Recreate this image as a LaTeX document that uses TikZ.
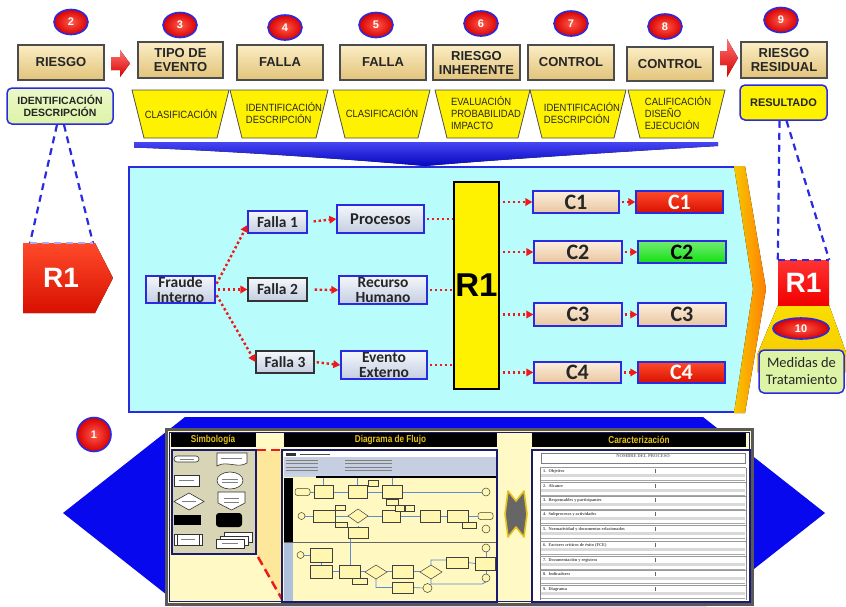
\documentclass[tikz,border=0pt]{standalone}
\usepackage{fontspec}
\setmainfont{Liberation Sans}
\newfontfamily\carl{Carlito}
\newfontfamily\narrowf[FakeStretch=0.9]{Liberation Sans}
\newfontfamily\narrowb[FakeStretch=0.82]{Liberation Sans}
\newfontfamily\serifl{Liberation Serif}
\usetikzlibrary{arrows.meta,shapes.geometric}
\definecolor{tanA}{HTML}{FBEDC4}
\definecolor{tanB}{HTML}{E2C37A}
\definecolor{bord}{HTML}{2A2AE0}
\definecolor{cyanbg}{HTML}{B9FCFC}
\definecolor{ctanA}{HTML}{FDEEDD}
\definecolor{ctanB}{HTML}{E8C59E}
\definecolor{gblA}{HTML}{F4F7FB}
\definecolor{gblB}{HTML}{C4CEE2}
\definecolor{redA}{HTML}{FF4A2A}
\definecolor{redB}{HTML}{D81000}
\definecolor{grn}{HTML}{14E014}
\definecolor{dred}{HTML}{F01818}
\definecolor{bbig}{HTML}{0808EE}
\definecolor{navy}{HTML}{1A1A70}
\definecolor{paleY}{HTML}{FFF9C6}
\definecolor{bandY}{HTML}{FCE79A}
\definecolor{khaki}{HTML}{D8D4B6}
\definecolor{gtext}{HTML}{E6C21C}
\definecolor{fy}{HTML}{FFF6B0}
\definecolor{fy2}{HTML}{FFF8C0}
\definecolor{fblue}{HTML}{5A8ED0}
\definecolor{slateA}{HTML}{C6CFE2}
\definecolor{laneblue}{HTML}{AFC0DC}
\definecolor{medg}{HTML}{DDF3A6}
\definecolor{goldt}{HTML}{F7C800}
\definecolor{ballin}{HTML}{FF5A4A}
\definecolor{ballout}{HTML}{D80000}
\newcommand\flowrect[4]{\filldraw[fbx] ({#1-#3/2},{#2-#4/2}) rectangle ({#1+#3/2},{#2+#4/2});}
\newcommand\flowdia[4]{\filldraw[fbx] ({#1-#3/2},#2) -- (#1,{#2-#4/2}) -- ({#1+#3/2},#2) -- (#1,{#2+#4/2}) -- cycle;}
\newcommand\flowcirc[3]{\filldraw[fbx] (#1,#2) circle (#3pt);}
\newcommand\flowpill[4]{\filldraw[fbx,rounded corners=2.5pt] ({#1-#3/2},{#2-#4/2}) rectangle ({#1+#3/2},{#2+#4/2});}
\tikzset{
 hdr/.style={draw=black!70,line width=1.1pt,top color=tanA,bottom color=tanB,inner sep=0pt,align=center,font=\bfseries\fontsize{13}{14}\selectfont,text=black!85},
 num/.style={ellipse,draw=bord,line width=1.6pt,inner color=ballin,outer color=ballout,text=white,inner sep=0pt,minimum width=34pt,minimum height=25pt,font=\bfseries\fontsize{11}{11}\selectfont},
 trap/.style={fill=yellow,draw=black!70,line width=0.8pt},
 ttxt/.style={font=\narrowf\fontsize{10.5}{12}\selectfont,align=left,text=black!85,inner sep=0pt},
 mbox/.style={draw=bord,line width=1.3pt,top color=gblA,bottom color=gblB,inner sep=0pt,align=center,font=\carl\bfseries\fontsize{15.5}{15.5}\selectfont,text=black!85},
 cbox/.style={draw=bord,line width=1.3pt,top color=ctanA,bottom color=ctanB,inner sep=0pt,font=\carl\bfseries\fontsize{22}{22}\selectfont,text=black!85},
 dotln/.style={draw=dred,line width=2.4pt,dash pattern=on 2.4pt off 2.6pt},
 dotarr/.style={dotln,-{Triangle[length=7pt,width=7.5pt]}},
 bluedash/.style={draw=bord,line width=2.2pt,dash pattern=on 7pt off 5pt},
 bhdr/.style={fill=black,text=gtext,minimum height=14pt,inner sep=0pt,font=\narrowb\bfseries\fontsize{10}{10}\selectfont},
 fbx/.style={draw=black!75,fill=fy,line width=0.5pt},
 fln/.style={draw=fblue,line width=0.7pt},
 sym/.style={draw=black!80,fill=white,line width=0.6pt},
}
\begin{document}
\begin{tikzpicture}[x=1pt,y=-1pt]
\useasboundingbox (0,0) rectangle (846,606);
% ---------------- bottom section ----------------
\fill[bbig] (63,513) -- (185,417) -- (703,417) -- (825,513) -- (707,606) -- (181,606) -- cycle;
\filldraw[fill=paleY,draw=black!65,line width=3pt] (166,429) rectangle (752,604);
\draw[navy,line width=1pt] (169.5,432) rectangle (749.5,601);
\node[bhdr,minimum width=85pt] (hS) at (213,439.5) {Simbología};
\node[bhdr,minimum width=213pt] (hD) at (390.5,439.5) {Diagrama de Flujo};
\node[bhdr,minimum width=214pt] (hC) at (639,439.5) {Caracterización};
% simbologia panel
\filldraw[fill=khaki,draw=navy,line width=2pt] (172,450) rectangle (256,554);
\filldraw[sym,rounded corners=3pt] (174,456) rectangle (199,462);
\filldraw[sym] (217,453) -- (247,453) -- (247,463) .. controls (238,469) and (226,460) .. (217,466) -- cycle;
\filldraw[sym] (174,475) rectangle (199,486);
\filldraw[sym] (230,480.5) ellipse (13pt and 8.5pt);
\filldraw[sym] (174,501.5) -- (189,493) -- (204,501.5) -- (189,510) -- cycle;
\filldraw[sym] (218,492) -- (245,492) -- (245,503) -- (231.5,510) -- (218,503) -- cycle;
\fill[black] (174,515) rectangle (201,525);
\fill[black,rounded corners=3pt] (216,513) rectangle (242,527);
\filldraw[sym] (174,534) rectangle (202,545);
\draw[black!80,line width=0.6pt] (177,534) -- (177,545) (199,534) -- (199,545);
\filldraw[sym] (224,532) rectangle (252,542);
\filldraw[sym] (220,536) rectangle (248,545);
\filldraw[sym] (216,539) rectangle (244,548);
\foreach \a/\b/\c in {180/194/459,221/242/458,179/194/480.5,222/238/479,222/238/482,182/196/501.5,224/239/498,224/239/502,181/195/539.5,222/238/543.5}
  \draw[gray,line width=0.5pt] (\a,\c) -- (\b,\c);
% zoom band
\fill[bandY] (257,451) -- (281,451) -- (282,601) -- (257,556) -- cycle;
\draw[dred,line width=2.5pt,dash pattern=on 9pt off 5pt] (257,450) -- (280,450);
\draw[dred,line width=2.5pt,dash pattern=on 9pt off 5pt] (258,557) -- (283,601);
% flow diagram panel
\filldraw[fill=fy2,draw=navy,line width=2pt] (282,450) rectangle (497,602);
\fill[white] (283.5,451) rectangle (496,457);
\fill[black!80] (286,452.5) rectangle (296,455.5);
\draw[black!70,line width=0.8pt] (300,454) -- (330,454);
\fill[slateA] (283.5,457) rectangle (496,474);
\foreach \yy in {460,463.5,467,470.5}{
  \draw[black!50,line width=0.6pt] (286,\yy) -- (318,\yy);
  \draw[black!50,line width=0.6pt] (345,\yy) -- (392,\yy);}
\fill[laneblue!70] (283.5,474) rectangle (496,477);
\fill[black] (316,476) rectangle (496,478);
\fill[black] (283.5,478) rectangle (293,542);
\fill[laneblue] (283.5,542) rectangle (293,601);
\draw[black!60,line width=1pt] (283.5,542) -- (496,542);
% lane 1 connectors
\draw[fln] (310,492) -- (482,492);
\draw[fln] (305,516) -- (478,516);
\draw[fln] (323.5,478) -- (323.5,485) (357.5,478) -- (357.5,485) (392,478) -- (392,485);
\draw[fln] (358,526) -- (358,527);
\draw[fln] (350,538) -- (350,565);
% lane 1 shapes
\flowpill{302.5}{492}{15}{7}
\flowrect{323.5}{491.5}{19}{13}
\flowrect{357.5}{491.5}{19}{13}
\flowrect{373}{483}{10}{6}
\flowrect{392}{491.5}{20}{13}
\flowrect{392}{502}{12}{6}
\flowcirc{486}{492}{4}
\flowcirc{301.5}{516}{3.5}
\flowrect{324}{516}{22}{12}
\flowrect{340}{507.5}{10}{5}
\flowrect{341}{524.5}{12}{5}
\flowdia{358}{516}{20}{14}
\flowrect{358}{532.5}{20}{11}
\flowrect{391}{516}{18}{12}
\flowrect{400}{508.5}{9}{6}
\flowrect{410}{508.5}{9}{6}
\flowrect{430}{516}{20}{12}
\flowrect{457.5}{516}{21}{12}
\flowrect{469}{525}{14}{6}
\flowpill{485.5}{516}{15}{7}
\flowcirc{486}{529}{4}
% lane 2 connectors
\draw[fln] (304,555) -- (310,555);
\draw[fln] (321,562) -- (321,565);
\draw[fln] (332,571.5) -- (365,571.5) (387,571.5) -- (420,571.5);
\draw[fln] (376,579) -- (376,587.5) -- (392,587.5) (413,587.5) -- (423,588);
\draw[fln] (431,565) -- (431,560) -- (446,560) (468,562.5) -- (475,563.5);
\draw[fln] (431,579) -- (431,584) -- (482,584) -- (486,582);
\draw[fln] (486,552) -- (486,557) (486,570) -- (486,574);
% lane 2 shapes
\flowcirc{300.5}{555}{3.5}
\flowrect{321}{555}{22}{14}
\flowrect{321}{571.5}{22}{13}
\flowrect{349.5}{571.5}{21}{13}
\flowrect{359.5}{581}{15}{6}
\flowdia{376}{572}{22}{14}
\flowrect{402.5}{571.5}{21}{13}
\flowrect{402.5}{587.5}{21}{11}
\flowcirc{427.5}{588}{4.5}
\flowdia{431}{572}{22}{14}
\flowrect{457}{562.5}{22}{11}
\flowrect{485}{563.5}{20}{13}
\flowcirc{486}{548}{4}
\flowcirc{486}{578}{4}
% double-headed connector
\filldraw[fill=black!60,draw=gtext,line width=1.6pt,line join=round] (508,491) -- (516,501) -- (524,491) -- (527,514) -- (524,537) -- (516,527) -- (508,537) -- (505,514) -- cycle;
% caracterizacion panel
\filldraw[fill=white,draw=navy,line width=2pt] (532,450) rectangle (750,602);
\draw[gray,line width=0.8pt] (541,453) rectangle (745,463);
\node[font=\serifl\bfseries\fontsize{4.5}{4.5}\selectfont,text=black!55,inner sep=0pt] (ctit) at (643,456.5) {NOMBRE DEL PROCESO};
\draw[gray,line width=0.8pt] (540,468) -- (540,600) (746,468) -- (746,600);
\foreach \yy/\lab in {471/{1.\ \ Objetivo},486/{2.\ \ Alcance},500/{3.\ \ Responsables y participantes},514/{4.\ \ Subprocesos y actividades},529/{5.\ \ Normatividad y documentos relacionados},545/{6.\ \ Factores críticos de éxito (FCE)},560/{7.\ \ Documentación y registros},574/{8.\ \ Indicadores},589/{9.\ \ Diagrama}}{
  \draw[gray!80,line width=0.8pt] (540,\yy-3.5) -- (746,\yy-3.5);
  \fill[gray!30] (541,\yy+3) rectangle (745,\yy+6);
  \draw[gray!70,line width=0.5pt] (541,\yy+9) -- (745,\yy+9);
  \draw[black!60,line width=0.8pt] (655,\yy-2) -- (655,\yy+1.5);
  \node[anchor=west,font=\serifl\bfseries\fontsize{4.3}{4.3}\selectfont,text=black!70,inner sep=0pt] at (543,\yy) {\lab};
}
\node[num,minimum width=34pt,minimum height=34pt] (n1) at (94,434.5) {1};
% ---------------- middle section ----------------
\fill[cyanbg] (129,167) -- (735,167) -- (754,289) -- (735,412) -- (129,412) -- cycle;
\draw[bord,line width=1.2pt] (737,167) -- (129,167) -- (129,412) -- (737,412);
\fill[left color=goldt,right color=orange] (734,166) -- (745,166) -- (766,289) -- (745,413) -- (734,413) -- (753,289) -- cycle;
\node[mbox,minimum width=69pt,minimum height=27pt] (fr) at (180.5,289.5) {Fraude\\Interno};
\node[mbox,minimum width=59pt,minimum height=22pt] (f1) at (277.5,222) {Falla 1};
\node[mbox,draw=black!80,minimum width=59pt,minimum height=23pt] (f2) at (277.5,289.5) {Falla 2};
\node[mbox,draw=black!80,minimum width=58pt,minimum height=22pt] (f3) at (285,362) {Falla 3};
\node[mbox,font=\carl\bfseries\fontsize{16.5}{16.5}\selectfont,minimum width=87pt,minimum height=28pt] (pro) at (380.5,219) {Procesos};
\node[mbox,minimum width=88pt,minimum height=28pt] (rec) at (383,290) {Recurso\\Humano};
\node[mbox,minimum width=86pt,minimum height=28pt] (ev) at (384,365) {Evento\\Externo};
\node[fill=yellow,draw=black,line width=1.6pt,minimum width=45pt,minimum height=207pt,inner sep=0pt,font=\bfseries\fontsize{33}{33}\selectfont] (R1y) at (476.5,285.5) {R1};
\node[cbox,minimum width=86pt,minimum height=22pt] (c1a) at (576,202) {C1};
\node[cbox,top color=redA,bottom color=redB,text=white,minimum width=87pt,minimum height=22pt] (c1b) at (679.5,202) {C1};
\node[cbox,minimum width=88pt,minimum height=22pt] (c2a) at (578,252) {C2};
\node[cbox,top color=grn!60!white,bottom color=grn,text=black,minimum width=88pt,minimum height=22pt] (c2b) at (682,252) {C2};
\node[cbox,minimum width=88pt,minimum height=23pt] (c3a) at (578,314.5) {C3};
\node[cbox,minimum width=88pt,minimum height=23pt] (c3b) at (682,314.5) {C3};
\node[cbox,minimum width=87pt,minimum height=21pt] (c4a) at (577.5,372.5) {C4};
\node[cbox,top color=redA,bottom color=redB,text=white,minimum width=87pt,minimum height=21pt] (c4b) at (681.5,372.5) {C4};
\draw[dotarr,shorten <=2pt] ([yshift=4pt]fr.east) -- ([yshift=-3pt]f1.west);
\draw[dotarr,shorten <=2pt] (fr.east) -- (f2.west);
\draw[dotarr,shorten <=2pt] ([yshift=-4pt]fr.east) -- (f3.west);
\draw[dotarr,shorten <=6pt] (f1.east) -- (pro.west);
\draw[dotarr,shorten <=7pt] (f2.east) -- (rec.west);
\draw[dotarr,shorten <=2pt] (f3.east) -- (ev.west);
\draw[dotln,shorten <=2pt] (pro.east) -- (pro.east -| R1y.west);
\draw[dotln,shorten <=2pt] (rec.east) -- (rec.east -| R1y.west);
\draw[dotln,shorten <=2pt] (ev.east) -- (ev.east -| R1y.west);
\draw[dotarr,shorten <=3pt] (R1y.east |- c1a.west) -- (c1a.west);
\draw[dotarr,shorten <=3pt] (R1y.east |- c2a.west) -- (c2a.west);
\draw[dotarr,shorten <=3pt] (R1y.east |- c3a.west) -- (c3a.west);
\draw[dotarr,shorten <=3pt] (R1y.east |- c4a.west) -- (c4a.west);
\draw[dotarr,shorten <=2pt] (c1a.east) -- (c1b.west);
\draw[dotarr,shorten <=2pt] (c2a.east) -- (c2b.west);
\draw[dotarr,shorten <=2pt] (c3a.east) -- (c3b.west);
\draw[dotarr,shorten <=2pt] (c4a.east) -- (c4b.west);
% ---------------- top section ----------------
\node[hdr,minimum width=86pt,minimum height=35pt] (h2) at (61,62.5) {RIESGO};
\node[hdr,minimum width=85pt,minimum height=36pt] (h3) at (180.5,60) {TIPO DE\\EVENTO};
\node[hdr,minimum width=86pt,minimum height=35pt] (h4) at (280,62.5) {FALLA};
\node[hdr,minimum width=86pt,minimum height=35pt] (h5) at (383,62.5) {FALLA};
\node[hdr,minimum width=87pt,minimum height=35pt] (h6) at (476.5,62.5) {RIESGO\\INHERENTE};
\node[hdr,minimum width=86pt,minimum height=35pt] (h7) at (571,62.5) {CONTROL};
\node[hdr,minimum width=86pt,minimum height=34pt] (h8) at (670,64) {CONTROL};
\node[hdr,minimum width=86pt,minimum height=36pt] (h9) at (784,60) {RIESGO\\RESIDUAL};
\fill[top color=red!55,bottom color=red!85!black] (111,57) -- (120,57) -- (120,50) -- (130,63.5) -- (120,77) -- (120,70) -- (111,70) -- cycle;
\fill[top color=red!55,bottom color=red!85!black] (720,51) -- (727,51) -- (727,39) -- (738,58) -- (727,77) -- (727,65) -- (720,65) -- cycle;
\node[num] (n2) at (71,22) {2};
\node[num] (n3) at (180,25) {3};
\node[num] (n4) at (285,27.5) {4};
\node[num] (n5) at (376,25) {5};
\node[num] (n6) at (481,23.5) {6};
\node[num] (n7) at (571,23.5) {7};
\node[num] (n8) at (665,26.5) {8};
\node[num] (n9) at (781,20) {9};
\foreach \a/\b in {132/229,230/328,333/430,435/530,530/626,628/725}
  \filldraw[trap] (\a,90) -- (\b,90) -- (\b-12,138) -- (\a+12,138) -- cycle;
\node[ttxt,align=center] (t1) at (181,114) {CLASIFICACIÓN};
\node[ttxt] (t2) at (284,113) {IDENTIFICACIÓN\\DESCRIPCIÓN};
\node[ttxt,align=center] (t3) at (382,113) {CLASIFICACIÓN};
\node[ttxt] (t4) at (486,113) {EVALUACIÓN\\PROBABILIDAD\\IMPACTO};
\node[ttxt] (t5) at (582,113) {IDENTIFICACIÓN\\DESCRIPCIÓN};
\node[ttxt] (t6) at (678,113) {CALIFICACIÓN\\DISEÑO\\EJECUCIÓN};
\fill[top color=bbig!75,bottom color=bbig!80!black] (134,142) -- (718,142) -- (718,146) .. controls (600,153) and (480,161) .. (425,166) .. controls (360,160) and (230,151) .. (134,147.5) -- cycle;
\node[draw=bord,line width=1.5pt,rounded corners=5pt,top color=medg!60!white,bottom color=medg,minimum width=106pt,minimum height=36pt,align=center,inner sep=0pt,font=\bfseries\fontsize{10.5}{12}\selectfont,text=black!85] (idL) at (60,106) {IDENTIFICACIÓN\\DESCRIPCIÓN};
\node[draw=bord,line width=1.5pt,rounded corners=5pt,fill=yellow,minimum width=87pt,minimum height=35pt,inner sep=0pt,font=\bfseries\fontsize{11}{12}\selectfont,text=black!85] (res) at (783.5,102.5) {RESULTADO};
% left R1
\fill[top color=redA,bottom color=redB] (23,243) -- (95,243) -- (113,278) -- (95,313) -- (23,313) -- cycle;
\node[text=white,font=\bfseries\fontsize{28}{28}\selectfont,inner sep=0pt] (R1L) at (61,278) {R1};
\coordinate (pl1) at (30,243);
\coordinate (pl2) at (93,243);
\draw[bluedash] ([xshift=-3pt]idL.south) -- (pl1);
\draw[bluedash] ([xshift=4pt]idL.south) -- (pl2);
\draw[bluedash,draw=bord!40,line width=1.5pt] (pl1) -- (pl2);
% right R1
\fill[top color=goldt!60!yellow,bottom color=goldt] (778,305) -- (829,305) -- (847,355) -- (847,372) -- (757,372) -- (757,355) -- cycle;
\node[top color=red!80,bottom color=red!95!black,minimum width=51pt,minimum height=45pt,inner sep=0pt,text=white,font=\bfseries\fontsize{28}{28}\selectfont] (R1R) at (803.5,282.5) {R1};
\draw[bluedash] ([xshift=-4pt]res.south) -- (R1R.north west);
\draw[bluedash] ([xshift=3pt]res.south) -- (R1R.north east);
\draw[bluedash] (R1R.north west) -- (R1R.north east);
\node[num,minimum width=56pt,minimum height=21pt] (n10) at (801,328.5) {10};
\node[draw=bord,line width=1.5pt,rounded corners=5pt,fill=medg,minimum width=85pt,minimum height=43pt,inner sep=0pt,align=center,font=\carl\fontsize{14.5}{17}\selectfont,text=black!85] (med) at (801.5,371.5) {Medidas de\\Tratamiento};
\end{tikzpicture}
\end{document}
